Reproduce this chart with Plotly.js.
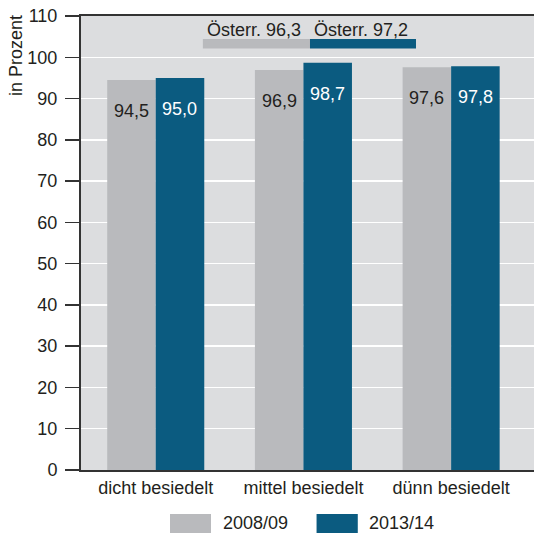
<!DOCTYPE html>
<html>
<head>
<meta charset="utf-8">
<script src="https://cdn.plot.ly/plotly-3.0.1.min.js"></script>
<style>
  html, body { margin: 0; padding: 0; background: #ffffff; }
  #chart { width: 534px; height: 533px; }
</style>
</head>
<body>
<div id="chart"></div>
<script>
// Besiedelungsgrade und Anteile in Prozent
const categories = ['dicht besiedelt', 'mittel besiedelt', 'dünn besiedelt'];
const seriesNames = ['2008/09', '2013/14'];
const values2008 = [94.5, 96.9, 97.6];
const values2013 = [95.0, 98.7, 97.8];
const austriaValues = [96.3, 97.2];
const yTicks = [0, 10, 20, 30, 40, 50, 60, 70, 80, 90, 100, 110];

const colors = ['#b9babd', '#0b5b80'];
const labelColors = ['#231f20', '#ffffff'];
const fontFamily = '"Liberation Sans", Arial, Helvetica, sans-serif';
const textDark = '#231f20';

const fmt = v => v.toFixed(1).replace('.', ',');
const xs = categories.map((_, i) => i);
const barWidth = 0.328;

const seriesValues = [values2008, values2013];

const traces = seriesValues.map((vals, s) => ({
  type: 'bar',
  name: seriesNames[s],
  x: xs,
  y: vals,
  marker: { color: colors[s], line: { width: 0 } },
  hoverinfo: 'none',
  showlegend: false
}));

// value labels near the top of each bar
const annotations = [];
seriesValues.forEach((vals, s) => {
  vals.forEach((v, i) => {
    annotations.push({
      x: i + (s === 0 ? -barWidth / 2 : barWidth / 2),
      y: v,
      xref: 'x', yref: 'y',
      text: fmt(v),
      showarrow: false,
      yanchor: 'middle',
      yshift: -31,
      font: { family: fontFamily, size: 18, color: labelColors[s] }
    });
  });
});

// Österreich-Durchschnitt: bands with labels across the top
const bandX = [[0.269, 0.5055], [0.5055, 0.7395]];
const shapes = [];
austriaValues.forEach((v, s) => {
  shapes.push({
    type: 'rect', xref: 'paper', yref: 'y',
    x0: bandX[s][0], x1: bandX[s][1], y0: 102.1, y1: 104.4,
    fillcolor: colors[s], line: { width: 0 }, layer: 'above'
  });
  annotations.push({
    x: (bandX[s][0] + bandX[s][1]) / 2 - 0.005, y: 104.4,
    xref: 'paper', yref: 'y',
    text: 'Österr. ' + fmt(v),
    showarrow: false, yanchor: 'bottom', yshift: -3,
    font: { family: fontFamily, size: 18, color: textDark }
  });
});

// y-axis title, placed at the top left
annotations.push({
  x: -0.1435, y: 0.914, xref: 'paper', yref: 'paper',
  text: 'in Prozent', textangle: -90, showarrow: false,
  xanchor: 'center', yanchor: 'middle',
  font: { family: fontFamily, size: 18, color: textDark }
});

// legend boxes and labels below the chart
const legendBoxX = [[0.1965, 0.287], [0.52, 0.611]];
const legendTextX = [0.309, 0.631];
seriesNames.forEach((name, s) => {
  shapes.push({
    type: 'rect', xref: 'paper', yref: 'paper',
    x0: legendBoxX[s][0], x1: legendBoxX[s][1], y0: -0.0969, y1: -0.145,
    fillcolor: colors[s], line: { width: 0 }
  });
  annotations.push({
    x: legendTextX[s], y: -0.1167, xref: 'paper', yref: 'paper',
    text: name, showarrow: false, xanchor: 'left', yanchor: 'middle',
    font: { family: fontFamily, size: 18, color: textDark }
  });
});

const layout = {
  width: 534,
  height: 533,
  margin: { l: 81, r: 0, t: 16, b: 63, pad: 0 },
  paper_bgcolor: '#ffffff',
  plot_bgcolor: '#dcdddf',
  barmode: 'group',
  bargap: 0.343,
  bargroupgap: 0,
  font: { family: fontFamily, size: 18, color: textDark },
  xaxis: {
    range: [-0.506, 2.561],
    tickvals: xs,
    ticktext: categories,
    ticks: '',
    showgrid: false,
    zeroline: false,
    showline: true,
    mirror: true,
    linecolor: '#333333',
    linewidth: 2,
    tickfont: { family: fontFamily, size: 18, color: textDark },
    automargin: false
  },
  yaxis: {
    range: [0, 110],
    tickvals: yTicks,
    ticktext: yTicks.map(String),
    ticks: 'outside',
    ticklen: 14,
    tickwidth: 1.5,
    tickcolor: '#333333',
    ticklabelstandoff: 4,
    showgrid: true,
    gridcolor: '#ffffff',
    gridwidth: 1.5,
    zeroline: false,
    showline: true,
    linecolor: '#333333',
    linewidth: 2,
    tickfont: { family: fontFamily, size: 18, color: textDark },
    automargin: false
  },
  shapes: shapes,
  annotations: annotations
};

Plotly.newPlot('chart', traces, layout, { staticPlot: true, displayModeBar: false });
</script>
</body>
</html>
